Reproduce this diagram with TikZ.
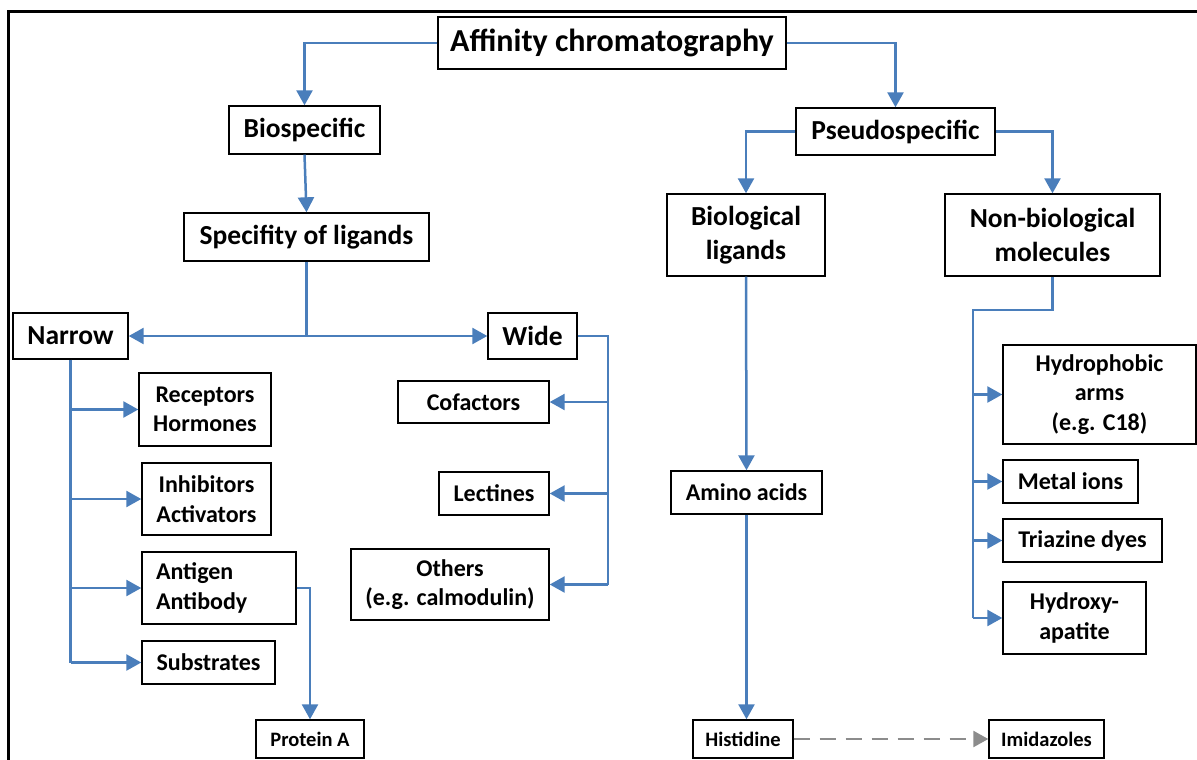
\documentclass[tikz,border=0pt]{standalone}
\usepackage{fontspec}
\setmainfont{Carlito}
\usetikzlibrary{arrows.meta}
\definecolor{lineblue}{HTML}{4A7EBB}
\definecolor{dashgray}{HTML}{8C8C8C}
\tikzset{
  box/.style={draw=black, line width=1.4pt, fill=white, inner sep=0pt, align=center, font=\bfseries},
  ftitle/.style={font=\bfseries\fontsize{32}{38}\selectfont},
  fbig/.style={font=\bfseries\fontsize{27.5}{34}\selectfont},
  fmid/.style={font=\bfseries\fontsize{24}{29.5}\selectfont},
  fsmall/.style={font=\bfseries\fontsize{20.5}{24}\selectfont},
  conn/.style={draw=lineblue, line width=2.5pt},
  arr/.style={conn, -{Triangle[width=16pt,length=15pt]}},
  darr/.style={draw=dashgray, line width=2.5pt, dash pattern=on 16pt off 10pt, -{Triangle[width=16pt,length=15pt]}},
}
\begin{document}
\begin{tikzpicture}[x=1pt,y=-1pt]
\useasboundingbox (0,0) rectangle (1197,760);
\draw[line width=3pt, line cap=rect] (8,762) -- (8,12) -- (1199,12);

% top levels
\node[box, ftitle, minimum width=348, minimum height=52] (aff) at (612,43) {Affinity chromatography};
\node[box, fbig, minimum width=151, minimum height=48] (bio) at (304.5,130) {Biospecific};
\node[box, fbig, minimum width=199, minimum height=47] (pseudo) at (895.5,131.5) {Pseudospecific};
\node[box, fbig, minimum width=245, minimum height=48] (spec) at (306.5,237) {Specifity of ligands};
\node[box, fbig, minimum width=158, minimum height=82] (biolig) at (746,235) {Biological\\ligands};
\node[box, fbig, minimum width=215, minimum height=82] (nonbio) at (1052.5,235) {Non-biological\\molecules};
\node[box, fbig, minimum width=115, minimum height=46] (narrow) at (70.5,336) {Narrow};
\node[box, fbig, minimum width=89, minimum height=46] (wide) at (532.5,336) {Wide};

% narrow leaves
\node[box, fmid, minimum width=132, minimum height=73] (recep) at (205,409.5) {Receptors\\Hormones};
\node[box, fmid, minimum width=129, minimum height=72] (inhib) at (206.5,499) {Inhibitors\\Activators};
\node[box, fmid, align=left, text width=126, inner xsep=14, minimum height=72] (antig) at (219,588) {Antigen\\Antibody};
\node[box, fmid, minimum width=133, minimum height=43] (subst) at (208.5,662.5) {Substrates};
\node[box, fsmall, minimum width=108, minimum height=38] (protA) at (310,739) {Protein A};

% wide leaves
\node[box, fmid, minimum width=151, minimum height=42] (cof) at (473.5,402) {Cofactors};
\node[box, fmid, minimum width=110, minimum height=43] (lect) at (494,493.5) {Lectines};
\node[box, fmid, minimum width=198, minimum height=71] (others) at (450,584.5) {Others\\(e.g. calmodulin)};

% biological ligands
\node[box, fmid, minimum width=151, minimum height=43] (amino) at (746.5,492.5) {Amino acids};
\node[box, fsmall, minimum width=100, minimum height=38] (hist) at (743,739) {Histidine};
\node[box, fsmall, minimum width=115, minimum height=38] (imid) at (1046.5,739) {Imidazoles};

% non-biological
\node[box, fmid, minimum width=193, minimum height=99] (hydro) at (1099.5,394.5) {Hydrophobic\\arms\\(e.g. C18)};
\node[box, fmid, minimum width=135, minimum height=43] (metal) at (1070.5,481.5) {Metal ions};
\node[box, fmid, minimum width=159, minimum height=43] (triaz) at (1082.5,540.5) {Triazine dyes};
\node[box, fmid, minimum width=143, minimum height=72] (hydrox) at (1074.5,618) {Hydroxy-\\apatite};

% connectors
\draw[arr] (aff.west) -| (bio.north);
\draw[arr] (aff.east) -| (pseudo.north);
\draw[arr] (bio.south) -- (spec.north);
\draw[arr] (pseudo.west) -| (biolig.north);
\draw[arr] (pseudo.east) -| (nonbio.north);

\coordinate (sj) at (spec.south |- narrow.east);
\draw[conn] (spec.south) -- (sj);
\draw[arr] (sj) -- (narrow.east);
\draw[arr] (sj) -- (wide.west);

\draw[conn] (narrow.south) -- (narrow.south |- subst.west);
\draw[arr] (narrow.south |- recep.west) -- (recep.west);
\draw[arr] (narrow.south |- inhib.west) -- (inhib.west);
\draw[arr] (narrow.south |- antig.west) -- (antig.west);
\draw[arr] (narrow.south |- subst.west) -- (subst.west);
\draw[arr] (antig.east) -| (protA.north);

\coordinate (wj) at (608,336);
\draw[conn] (wide.east) -- (wj) -- (wj |- others.east);
\draw[arr] (wj |- cof.east) -- (cof.east);
\draw[arr] (wj |- lect.east) -- (lect.east);
\draw[arr] (wj |- others.east) -- (others.east);

\draw[arr] (biolig.south) -- (amino.north);
\draw[arr] (amino.south) -- (amino.south |- hist.north);
\draw[darr] (hist.east) -- (imid.west);

\coordinate (nk) at (nonbio.south |- 0,310);
\coordinate (nj) at (973,310);
\draw[conn] (nonbio.south) -- (nk) -- (nj) -- (nj |- hydrox.west);
\draw[arr] (nj |- hydro.west) -- (hydro.west);
\draw[arr] (nj |- metal.west) -- (metal.west);
\draw[arr] (nj |- triaz.west) -- (triaz.west);
\draw[arr] (nj |- hydrox.west) -- (hydrox.west);
\end{tikzpicture}
\end{document}
